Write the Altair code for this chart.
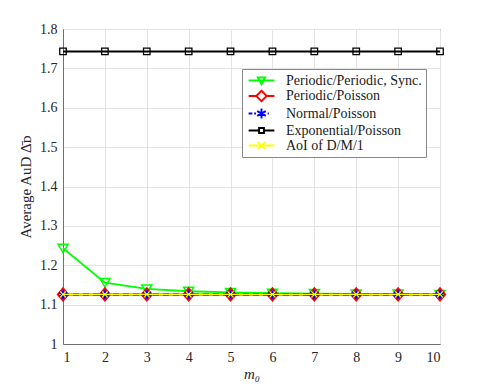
import altair as alt
import pandas as pd

m0 = [1, 2, 3, 4, 5, 6, 7, 8, 9, 10]
series_names = ["Periodic/Periodic, Sync.", "Periodic/Poisson", "Normal/Poisson",
                "Exponential/Poisson", "AoI of D/M/1"]
periodic_sync = [1.243, 1.156, 1.140, 1.134, 1.131, 1.129, 1.128, 1.127, 1.127, 1.126]
periodic_poisson = [1.126] * 10
normal_poisson = [1.126] * 10
exponential_poisson = [1.743] * 10
aoi_dm1 = [1.126] * 10
y_ticks = [1.0, 1.1, 1.2, 1.3, 1.4, 1.5, 1.6, 1.7, 1.8]

values = [periodic_sync, periodic_poisson, normal_poisson, exponential_poisson, aoi_dm1]
colors = ["#00ff00", "#ff0000", "#0000ff", "#000000", "#ffff00"]

rows = []
for name, vals in zip(series_names, values):
    for x, v in zip(m0, vals):
        rows.append({"m0": x, "value": v, "Series": name})
df = pd.DataFrame(rows)

FONT = "Liberation Serif"

x_enc = alt.X("m0:Q", scale=alt.Scale(domain=[1, 10], nice=False),
              axis=alt.Axis(values=m0, title="m₀", titleFontStyle="italic", labelOverlap=False))
y_enc = alt.Y("value:Q", scale=alt.Scale(domain=[1, 1.8], nice=False),
              axis=alt.Axis(values=y_ticks, format=".1~f", title="Average AuD Δ̄ᴅ",
                            labelOverlap=False))

# plot marker shapes
plot_shapes = [
    "M-1,-0.8H1L0,0.9Z",
    "M0,-1.2L1,0L0,1.2L-1,0Z",
    "M0,-0.85V0.85M-0.75,-0.45L0.75,0.45M-0.75,0.45L0.75,-0.45",
    "M-0.65,-0.65H0.65V0.65H-0.65Z",
    "M-0.6,-0.6L0.6,0.6M-0.6,0.6L0.6,-0.6",
]
line_styles = [
    dict(strokeWidth=1.8),
    dict(strokeWidth=2),
    dict(strokeWidth=2, strokeDash=[6, 4]),
    dict(strokeWidth=2),
    dict(strokeWidth=1.2),
]
point_styles = [
    dict(strokeWidth=1.5, size=100),
    dict(strokeWidth=2.2, size=100),
    dict(strokeWidth=2.2, size=100),
    dict(strokeWidth=1.3, size=100),
    dict(strokeWidth=1.2, size=100),
]

base = alt.Chart(df)
layers = []
for name, col, shp, ls, ps in zip(series_names, colors, plot_shapes, line_styles, point_styles):
    sub = base.transform_filter(alt.datum.Series == name)
    layers.append(sub.mark_line(color=col, **ls).encode(x=x_enc, y=y_enc))
    layers.append(sub.mark_point(shape=shp, color=col, filled=False, opacity=1, **ps)
                  .encode(x=x_enc, y=y_enc))

legend_shapes = [
    "M-2.1,0H2.1M-0.6,-0.5H0.6L0,0.6Z",
    "M-2.1,0H-0.85M0.85,0H2.1M0,-0.85L0.85,0L0,0.85L-0.85,0Z",
    "M-2.1,0H-1.5M-1.2,0H-0.9M1.0,0H1.2M0,-0.8V0.8M-0.7,-0.4L0.7,0.4M-0.7,0.4L0.7,-0.4",
    "M-2.1,0H-0.4M0.4,0H2.1M-0.4,-0.4H0.4V0.4H-0.4Z",
    "M-2.1,0H2.1M-0.6,-0.6L0.6,0.6M-0.6,0.6L0.6,-0.6",
]

legend_layer = base.mark_point(filled=False, opacity=0).encode(
    x=x_enc, y=y_enc,
    color=alt.Color("Series:N", scale=alt.Scale(domain=series_names, range=colors),
                    legend=alt.Legend(title=None, orient="none", legendX=179, legendY=40,
                                      symbolOpacity=1, symbolSize=150, symbolStrokeWidth=1.9,
                                      symbolOffset=8, labelOffset=17, labelFontSize=14,
                                      labelFont=FONT, labelColor="#1a1a1a",
                                      rowPadding=-1.5, padding=4, strokeColor="#888888",
                                      fillColor="#ffffff", labelLimit=300)),
    shape=alt.Shape("Series:N", scale=alt.Scale(domain=series_names, range=legend_shapes)),
)
layers.append(legend_layer)

chart = alt.layer(*layers).properties(
    width=377, height=315,
    autosize=alt.AutoSizeParams(type="none"),
    padding={"left": 55, "top": 21, "right": 37, "bottom": 44},
).configure_view(stroke="#404040", strokeWidth=1).configure_axis(
    labelFont=FONT, titleFont=FONT, labelFontSize=14, titleFontSize=15,
    labelColor="#262626", titleColor="#262626", titleFontWeight="normal",
    domainColor="#707070", gridColor="#e3e3e3", ticks=False, labelPadding=6,
).configure_axisX(titlePadding=2).configure_axisY(titlePadding=6)

chart.save("out.html", embed_options={"renderer": "svg", "actions": False})
